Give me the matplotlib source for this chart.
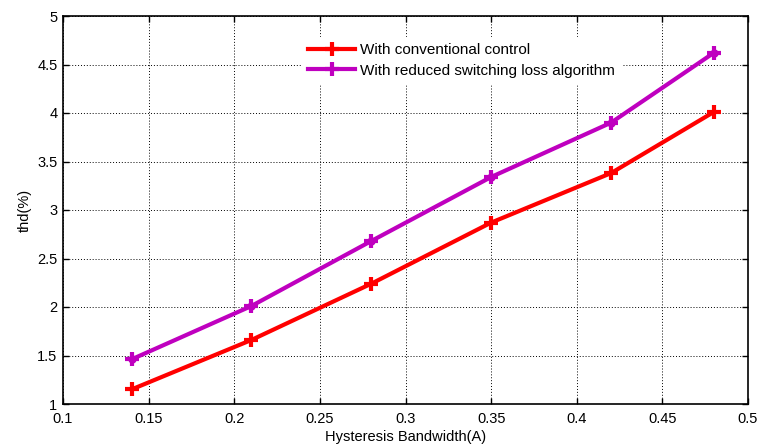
import matplotlib
matplotlib.use("Agg")
import matplotlib.pyplot as plt

plt.rcParams['font.family'] = ['Liberation Sans', 'DejaVu Sans']

bandwidth = [0.14, 0.21, 0.28, 0.35, 0.42, 0.48]
thd_conventional = [1.15, 1.66, 2.24, 2.87, 3.38, 4.01]
thd_reduced = [1.46, 2.01, 2.68, 3.34, 3.90, 4.62]
xticks = [0.1, 0.15, 0.2, 0.25, 0.3, 0.35, 0.4, 0.45, 0.5]
yticks = [1, 1.5, 2, 2.5, 3, 3.5, 4, 4.5, 5]

fig = plt.figure(figsize=(7.6, 4.46), dpi=100)
ax = fig.add_axes([63/760, 1 - 404/446, (748 - 63)/760, (404 - 16)/446])

ax.plot(bandwidth, thd_conventional, color='#ff0000', lw=3, marker='+', ms=10, mew=3,
        label='With conventional control')
ax.plot(bandwidth, thd_reduced, color='#bf00bf', lw=3, marker='+', ms=10, mew=3,
        label='With reduced switching loss algorithm')
ax.plot(bandwidth, thd_reduced, color='#bf00bf', lw=0, marker='o', ms=5)

ax.set_xlim(0.1, 0.5)
ax.set_ylim(1, 5)
ax.set_xticks(xticks)
ax.set_xticklabels([f'{t:g}' for t in xticks])
ax.set_yticks(yticks)
ax.set_yticklabels([f'{t:g}' for t in yticks])
ax.tick_params(direction='in', length=4, width=1, labelsize=10.5, top=True, right=True, colors='black')
ax.tick_params(axis='x', pad=6)
ax.tick_params(axis='y', pad=4)
ax.grid(True, color='black', linestyle=(0, (1, 2)), linewidth=0.7)
for s in ax.spines.values():
    s.set_linewidth(1.2)
    s.set_color('black')

ax.set_xlabel('Hysteresis Bandwidth(A)', fontsize=10.5, labelpad=3)
ax.set_ylabel('thd(%)', fontsize=10.5, labelpad=4)

leg = ax.legend(loc='upper left', bbox_to_anchor=(302/760, 1 - 37/446),
                bbox_transform=fig.transFigure, fontsize=11, frameon=True,
                fancybox=False, edgecolor='white', framealpha=1, handlelength=3.1,
                borderpad=0.4, labelspacing=0.42, handletextpad=0.3, borderaxespad=0)

fig.savefig('out.png', dpi=100)
